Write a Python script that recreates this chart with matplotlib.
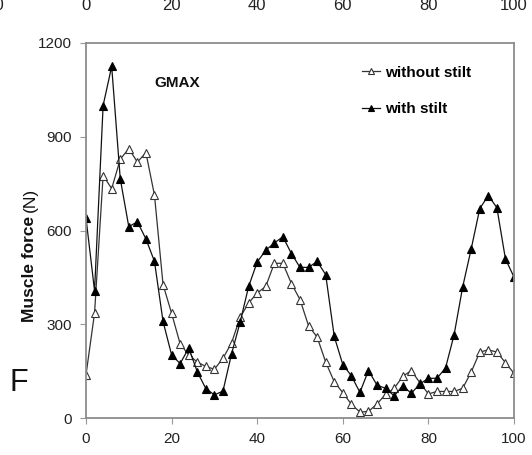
import matplotlib
matplotlib.use("Agg")
import matplotlib.pyplot as plt
import numpy as np

plt.rcParams['font.family'] = ['Liberation Sans', 'DejaVu Sans']

# gait cycle (%) sampled every 2 %
gait_pct = np.arange(0, 101, 2)

# GMAX muscle force (N)
with_stilt = [640, 407, 1000, 1125, 766, 612, 628, 573, 501, 309,
              202, 174, 224, 148, 94, 74, 86, 205, 306, 421,
              499, 537, 560, 580, 526, 482, 482, 501, 459, 261,
              171, 135, 82, 152, 105, 95, 71, 103, 79, 109,
              127, 127, 160, 266, 419, 541, 670, 712, 673, 509,
              451]
without_stilt = [138, 336, 776, 734, 828, 862, 819, 849, 713, 427,
                 335, 237, 202, 179, 165, 156, 191, 240, 322, 368,
                 400, 421, 495, 495, 430, 379, 295, 259, 179, 116,
                 81, 44, 19, 21, 45, 76, 95, 133, 152, 113,
                 77, 85, 85, 85, 95, 147, 211, 218, 211, 177,
                 143]

x_ticks = [0, 20, 40, 60, 80, 100]
y_ticks = [0, 300, 600, 900, 1200]

W, H = 532, 455
fig = plt.figure(figsize=(W / 100, H / 100), dpi=100)
ax = fig.add_axes([86 / W, 1 - 418 / H, 428 / W, 375 / H])

ax.plot(gait_pct, without_stilt, color='#333333', lw=0.9, marker='^',
        ms=5.2, mfc='white', mec='#333333', mew=0.8, label='without stilt')
ax.plot(gait_pct, with_stilt, color='#111111', lw=0.9, marker='^',
        ms=5.2, mfc='black', mec='black', mew=0.8, label='with stilt')

ax.set_xlim(0, 100)
ax.set_ylim(0, 1200)
ax.set_xticks(x_ticks)
ax.set_yticks(y_ticks)
ax.tick_params(axis='both', direction='out', length=4, width=0.8,
               color='#999999', labelsize=11, labelcolor='#222222', pad=6)
for s in ax.spines.values():
    s.set_color('#8c8c8c')
    s.set_linewidth(1.3)

fig.text(177 / W, 1 - 83 / H, 'GMAX', fontsize=11, fontweight='bold',
         ha='center', va='center', color='#111111')

leg = ax.legend(loc='upper left', bbox_to_anchor=((348 - 86) / 428, 1 - (52 - 43) / 375),
                frameon=False, handlelength=1.2, handletextpad=0.3,
                labelspacing=1.45, markerscale=0.7,
                prop={'size': 11, 'weight': 'bold'})

# y axis title: bold words, plain units
fig.canvas.draw()
r = fig.canvas.get_renderer()
yt = fig.text(30 / W, 1 - 322 / H, 'Muscle force', rotation=90, fontsize=12.5,
              fontweight='bold', ha='left', va='center', rotation_mode='anchor',
              color='#111111')
bb = yt.get_window_extent(renderer=r)
fig.text(30 / W, (bb.y1 + 4) / H, '(N)', rotation=90, fontsize=12.5,
         ha='left', va='center', rotation_mode='anchor', color='#111111')

fig.text(19 / W, 1 - 383 / H, 'F', fontsize=22, ha='center', va='center',
         color='#111111')

# tick labels of the panel above, cut by the top edge
for xv in x_ticks:
    fig.text((86 + xv * 4.28) / W, 1 - 10 / H, str(xv), fontsize=12,
             ha='center', va='baseline', color='#222222')
fig.text(4 / W, 1 - 10 / H, '100', fontsize=12, ha='right', va='baseline',
         color='#222222')

fig.savefig('out.png', dpi=100)
